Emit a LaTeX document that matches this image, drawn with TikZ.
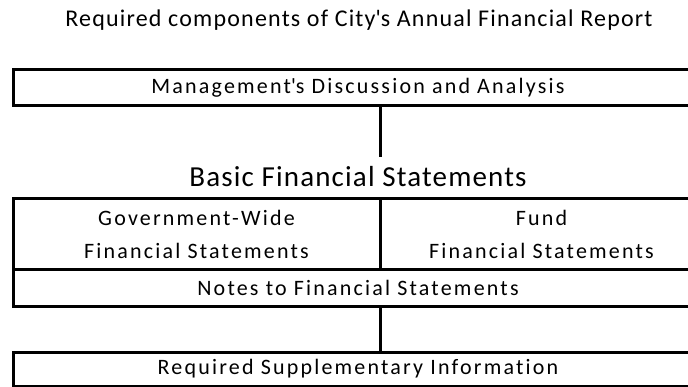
\documentclass[tikz,border=0pt]{standalone}
\usepackage{fontspec}
\setmainfont{Carlito}[Ligatures={TeX,NoCommon}]
\newfontfamily\partfont{Carlito}[LetterSpace=10,Ligatures={TeX,NoCommon}]
\newfontfamily\headfont{Carlito}[LetterSpace=5,Ligatures={TeX,NoCommon}]
\newfontfamily\basicfont{Carlito}[LetterSpace=4,Ligatures={TeX,NoCommon}]
\begin{document}
\begin{tikzpicture}[x=1pt, y=-1pt,
		part/.style={draw, line width=3pt, inner sep=0pt, outer sep=0pt, align=center,
			font=\partfont\fontsize{22}{33}\selectfont},
		heading/.style={inner sep=0pt, anchor=base, font=\headfont\fontsize{24}{28}\selectfont}]
	\useasboundingbox (0, 0) rectangle (688, 387);
	\clip (0, 0) rectangle (688, 387);

	\node[heading] (title) at (359, 27) {Required components of City\textquotesingle s Annual Financial Report};

	\node[part, minimum width=690, minimum height=36] (mda) at (358, 88) {Management\textquotesingle s Discussion and Analysis};
	\node[heading, font=\basicfont\fontsize{29}{34}\selectfont] (basic) at (358, 187) {Basic Financial Statements};
	\coordinate (mdaend) at (380, 157);

	\node[part, minimum width=367, minimum height=71] (gw) at (196.5, 234.5) {Government-Wide\\Financial Statements};
	\node[part, minimum width=323, minimum height=71] (fund) at (541.5, 234.5) {Fund\\Financial Statements};
	\node[part, minimum width=690, minimum height=37] (notes) at (358, 288) {Notes to Financial Statements};
	\node[part, minimum width=690, minimum height=34] (rsi) at (358, 369) {Required Supplementary Information};

	\draw[line width=3pt] (mda.south -| fund.west) -- (mdaend);
	\draw[line width=3pt] (notes.south -| fund.west) -- (rsi.north -| fund.west);
\end{tikzpicture}
\end{document}
